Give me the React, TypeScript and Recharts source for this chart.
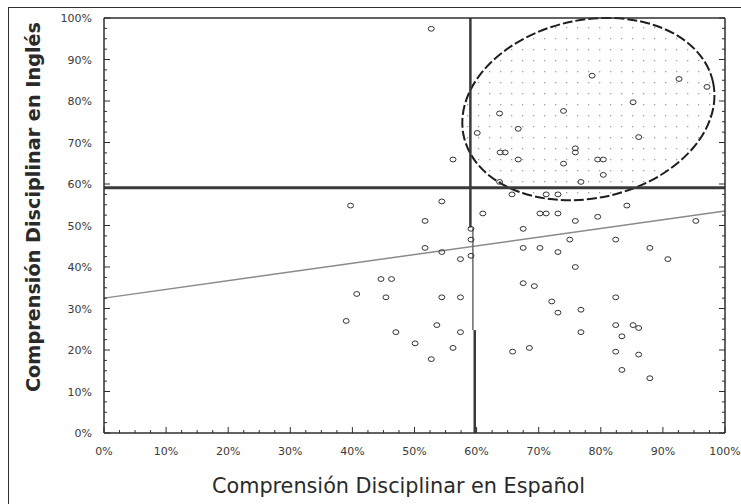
import React from "react";
import {
  ScatterChart,
  Scatter,
  XAxis,
  YAxis,
  ReferenceLine,
  ReferenceArea,
} from "recharts";

// Comprensión en Español (x, %) y en Inglés (y, %) por estudiante
const espanol = [
  52.7, 78.6, 92.6, 97.1, 85.2, 74.0, 63.7, 66.7, 60.1, 86.1,
  75.9, 75.9, 63.8, 64.6, 66.7, 56.2, 74.0, 79.5, 80.4, 80.4,
  76.8, 63.7, 65.7, 71.2, 73.1, 84.2, 39.7, 54.4, 61.0, 70.2,
  71.2, 73.1, 75.9, 79.5, 95.3, 51.7, 59.1, 67.5, 59.1, 75.0,
  82.4, 51.7, 67.5, 70.2, 87.9, 54.4, 73.1, 59.1, 57.4, 90.8,
  75.9, 44.6, 46.3, 67.5, 69.3, 40.7, 45.4, 54.4, 57.4, 82.4,
  72.1, 76.8, 73.1, 39.0, 53.6, 82.4, 85.2, 86.1, 47.0, 57.4,
  76.8, 83.4, 50.1, 56.2, 68.5, 65.8, 82.4, 86.1, 52.7, 83.4,
  87.9,
];
const ingles = [
  97.4, 86.1, 85.3, 83.4, 79.7, 77.6, 77.0, 73.3, 72.3, 71.3,
  68.6, 67.6, 67.6, 67.6, 65.9, 65.9, 64.9, 65.9, 65.9, 62.2,
  60.5, 60.5, 57.5, 57.5, 57.5, 54.8, 54.8, 55.8, 52.9, 52.9,
  52.9, 52.9, 51.1, 52.1, 51.1, 51.1, 49.2, 49.2, 46.6, 46.6,
  46.6, 44.6, 44.6, 44.6, 44.6, 43.6, 43.6, 42.7, 41.9, 41.9,
  40.0, 37.1, 37.1, 36.1, 35.4, 33.5, 32.7, 32.7, 32.7, 32.7,
  31.7, 29.7, 29.0, 27.0, 26.0, 26.0, 26.0, 25.3, 24.3, 24.3,
  24.3, 23.3, 21.6, 20.5, 20.5, 19.6, 19.6, 18.9, 17.8, 15.2,
  13.2,
];

const ticks = Array.from({ length: 41 }, (_, i) => i * 2.5);

// línea de regresión y cortes al 60 %
const regStart = { x: 0, y: 32.5 };
const regEnd = { x: 100, y: 53.5 };
const corteIngles = 59.1;
// zona del grupo alto (caja de la elipse)
const elipse = { x1: 57.7, x2: 98.3, y1: 56.1, y2: 100, rho: 0.15 };

const points = espanol.map((x, i) => ({ x, y: ingles[i] }));

const INK = "#2e2e2e";
const TICK_FONT = "'DejaVu Sans', sans-serif";

const isMajor = (v: number) => Math.abs(v % 10) < 0.01;

function BottomTick({ x, y, payload }: any) {
  const major = isMajor(payload.value);
  return (
    <g>
      <line x1={x} x2={x} y1={y} y2={y - (major ? 6 : 3)} stroke={INK} />
      {major && (
        <text x={x} y={y + 22} textAnchor="middle" fontSize={11} fill="#3a3a3a" fontFamily={TICK_FONT}>
          {payload.value}%
        </text>
      )}
    </g>
  );
}
function TopTick({ x, y, payload }: any) {
  const major = isMajor(payload.value);
  return <line x1={x} x2={x} y1={y} y2={y + (major ? 6 : 3)} stroke={INK} />;
}
function LeftTick({ x, y, payload }: any) {
  const major = isMajor(payload.value);
  return (
    <g>
      <line x1={x} x2={x + (major ? 6 : 3)} y1={y} y2={y} stroke={INK} />
      {major && (
        <text x={x - 12} y={y + 4} textAnchor="end" fontSize={11} fill="#3a3a3a" fontFamily={TICK_FONT}>
          {payload.value}%
        </text>
      )}
    </g>
  );
}
function RightTick({ x, y, payload }: any) {
  const major = isMajor(payload.value);
  return <line x1={x} x2={x - (major ? 6 : 3)} y1={y} y2={y} stroke={INK} />;
}

// elipse inclinada dentro de la caja; trazada como path para que el
// patrón de puntos quede alineado con la pantalla
function EllipseShape(props: any) {
  const { x, y, width, height } = props;
  const cx = x + width / 2;
  const cy = y + height / 2;
  const hw = width / 2;
  const hh = height / 2;
  const mxy = -elipse.rho * hw * hh;
  const t = (hw * hw + hh * hh) / 2;
  const d = Math.sqrt(((hw * hw - hh * hh) / 2) ** 2 + mxy * mxy);
  const rx = Math.sqrt(t + d);
  const ry = Math.sqrt(t - d);
  const a = 0.5 * Math.atan2(2 * mxy, hw * hw - hh * hh);
  const deg = (a * 180) / Math.PI;
  const px = rx * Math.cos(a);
  const py = rx * Math.sin(a);
  const path =
    `M ${cx + px} ${cy + py} ` +
    `A ${rx} ${ry} ${deg} 1 1 ${cx - px} ${cy - py} ` +
    `A ${rx} ${ry} ${deg} 1 1 ${cx + px} ${cy + py} Z`;
  return (
    <g>
      <defs>
        <pattern id="dots" x={0} y={0} width="11" height="11" patternUnits="userSpaceOnUse">
          <rect x="5" y="5" width="1.3" height="1.3" fill="#a0a0a0" />
        </pattern>
      </defs>
      <path d={path} fill="url(#dots)" stroke="#1e1e1e" strokeWidth={2} strokeDasharray="10 3" />
    </g>
  );
}

function Marker({ cx, cy }: any) {
  return <ellipse cx={cx} cy={cy} rx={3} ry={2.4} fill="none" stroke="#333" strokeWidth={1} />;
}

export default function App() {
  return (
    <div style={{ position: "absolute", left: 0, top: 0, width: 741, height: 504, background: "#fff" }}>
      <div
        style={{
          position: "absolute",
          left: 8,
          top: 7,
          width: 740,
          height: 505,
          borderTop: `1px solid ${INK}`,
          borderLeft: `1px solid ${INK}`,
        }}
      />
      <ScatterChart width={741} height={504} margin={{ top: 0, right: 0, bottom: 0, left: 0 }}>
        <XAxis
          dataKey="x"
          type="number"
          domain={[0, 100]}
          ticks={ticks}
          interval={0}
          height={71}
          tickSize={0}
          tickMargin={0}
          tick={BottomTick}
          axisLine={{ stroke: INK, strokeWidth: 1.5 }}
          allowDataOverflow
        />
        <XAxis
          xAxisId="top"
          orientation="top"
          type="number"
          domain={[0, 100]}
          ticks={ticks}
          interval={0}
          height={18}
          tickSize={0}
          tickMargin={0}
          tick={TopTick}
          axisLine={{ stroke: INK, strokeWidth: 1.5 }}
          allowDataOverflow
        />
        <YAxis
          dataKey="y"
          type="number"
          domain={[0, 100]}
          ticks={ticks}
          interval={0}
          width={104}
          tickSize={0}
          tickMargin={0}
          tick={LeftTick}
          axisLine={{ stroke: INK, strokeWidth: 1.5 }}
          allowDataOverflow
        />
        <YAxis
          yAxisId="right"
          orientation="right"
          type="number"
          domain={[0, 100]}
          ticks={ticks}
          interval={0}
          width={16}
          tickSize={0}
          tickMargin={0}
          tick={RightTick}
          axisLine={{ stroke: INK, strokeWidth: 1.5 }}
          allowDataOverflow
        />
        <ReferenceArea
          x1={elipse.x1}
          x2={elipse.x2}
          y1={elipse.y1}
          y2={elipse.y2}
          shape={EllipseShape}
          ifOverflow="visible"
        />
        <ReferenceLine
          segment={[regStart, regEnd]}
          stroke="#8a8a8a"
          strokeWidth={1.5}
        />
        <ReferenceLine y={corteIngles} stroke="#3a3a3a" strokeWidth={3} />
        <ReferenceLine
          segment={[
            { x: 59.0, y: 100 },
            { x: 59.0, y: 49.5 },
          ]}
          stroke="#3a3a3a"
          strokeWidth={2.5}
        />
        <ReferenceLine
          segment={[
            { x: 59.4, y: 49.5 },
            { x: 59.4, y: 24.8 },
          ]}
          stroke="#6a6a6a"
          strokeWidth={1.5}
        />
        <ReferenceLine
          segment={[
            { x: 59.7, y: 24.8 },
            { x: 59.7, y: 0 },
          ]}
          stroke="#3a3a3a"
          strokeWidth={2.5}
        />
        <Scatter data={points} shape={Marker} isAnimationActive={false} />
      </ScatterChart>
      <svg
        width={741}
        height={504}
        style={{ position: "absolute", left: 0, top: 0, pointerEvents: "none" }}
      >
        <text
          transform="translate(40 392) rotate(-90)"
          x={0}
          y={0}
          fontSize={19}
          fontWeight="bold"
          fill="#2a2a2a"
          fontFamily="'DejaVu Sans Condensed', 'DejaVu Sans', sans-serif"
          textLength={370}
          lengthAdjust="spacingAndGlyphs"
        >
          Comprensión Disciplinar en Inglés
        </text>
        <text
          x={212}
          y={493}
          fontSize={22}
          fill="#2a2a2a"
          fontFamily="'DejaVu Sans Condensed', 'DejaVu Sans', sans-serif"
          textLength={373}
          lengthAdjust="spacingAndGlyphs"
        >
          Comprensión Disciplinar en Español
        </text>
      </svg>
    </div>
  );
}
